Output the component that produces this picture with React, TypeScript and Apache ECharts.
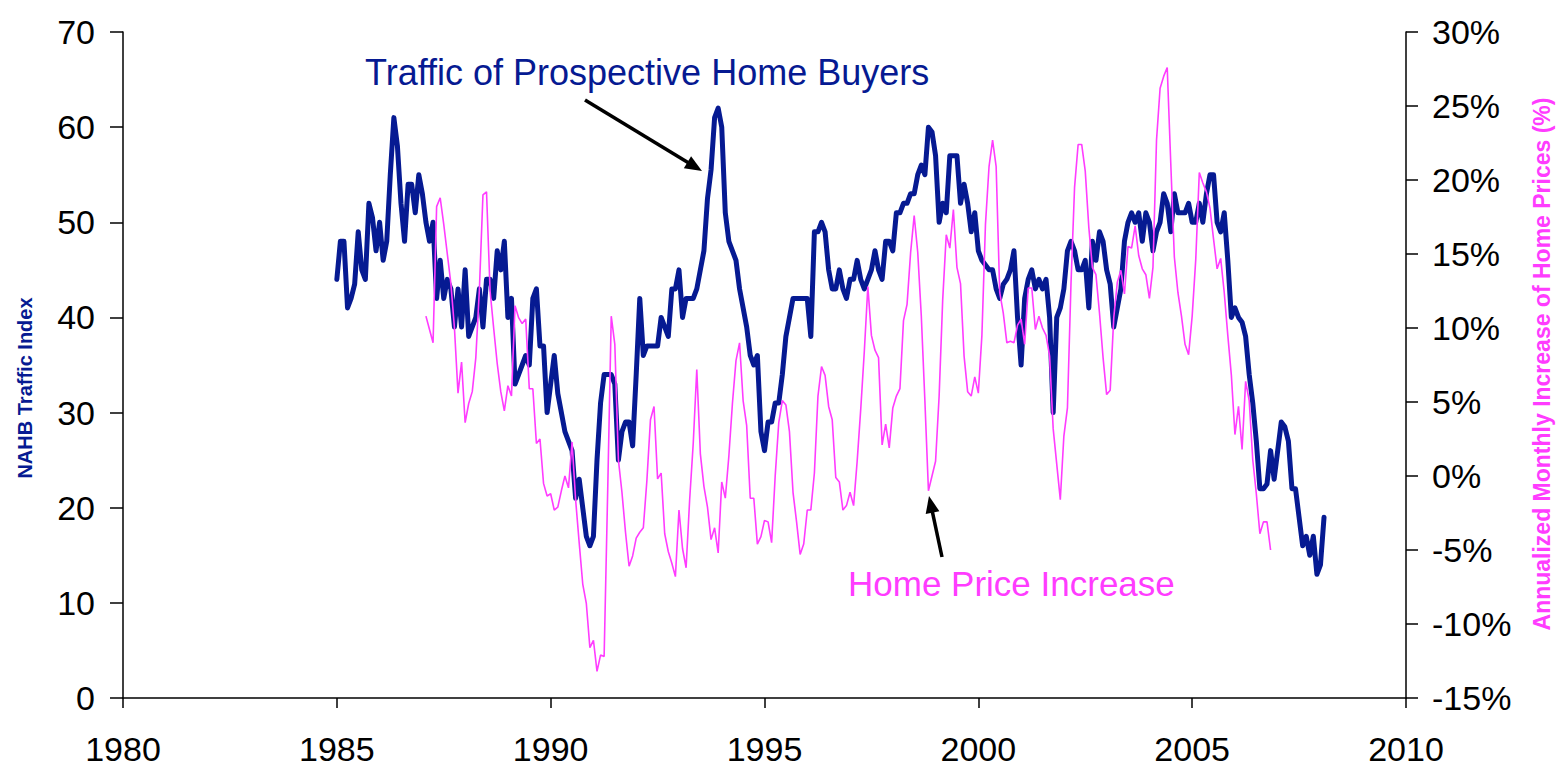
import React, { useEffect, useRef } from "react";
import * as echarts from "echarts";

// NAHB traffic index, monthly from Jan 1985
const trafficStartYear = 1985;
const trafficIndex = [
  44, 48, 48, 41, 42, 43.5, 49, 45, 44, 52,
  50.5, 47, 50, 46, 48, 55, 61, 58, 52, 48,
  54, 54, 51, 55, 53, 50, 48, 50, 42, 46,
  42, 44, 43, 39, 43, 39, 45, 38, 39, 40,
  43, 39, 44, 44, 42, 47, 45, 48, 40, 42,
  33, 34, 35, 36, 35, 42, 43, 37, 37, 30,
  33, 36, 32, 30, 28, 27, 26, 21, 23, 20,
  17, 16, 17, 25, 31, 34, 34, 34, 33, 25,
  28, 29, 29, 26.5, 34, 42, 36, 37, 37, 37,
  37, 40, 39, 38, 43, 43, 45, 40, 42, 42,
  42, 43, 45, 47, 52.5, 55.5, 61, 62, 60, 51,
  48, 47, 46, 43, 41, 39, 36, 35, 36, 28,
  26, 29, 29, 31, 31, 34, 38, 40, 42, 42,
  42, 42, 42, 38, 49, 49, 50, 49, 45, 43,
  43, 45, 43, 42, 44, 44, 46, 44, 43, 44,
  45, 47, 45, 44, 48, 48, 47, 51, 51, 52,
  52, 53, 53, 55, 56, 55, 60, 59.5, 57, 50,
  52, 51, 57, 57, 57, 52, 54, 52, 49, 51,
  47, 46, 45.5, 45, 45, 43, 42, 43.5, 44, 45,
  47, 40, 35, 42, 44, 45, 43, 44, 43, 44,
  40, 30, 40, 41, 43, 47, 48, 47, 45, 45,
  46, 41, 48, 46, 49, 48, 45, 43.5, 39, 41,
  43, 48, 50, 51, 50, 51, 48, 51, 50, 47,
  49, 50, 53, 52, 49, 53, 51, 51, 51, 52,
  50, 50, 52, 50, 53, 55, 55, 50, 49, 51,
  46, 40, 41, 40, 39.5, 38, 34, 31, 27, 22,
  22, 22.5, 26, 23, 26, 29, 28.5, 27, 22, 22,
  19, 16, 17, 15, 17, 13, 14, 19,
];

// Annualized monthly increase of home prices (%), monthly from Feb 1987
const priceStartYear = 1987 + 1 / 12;
const priceIncrease = [
  10.8, 9.9, 9.0, 18.2, 18.8, 17.0, 15.0, 13.0, 10.0, 5.6,
  7.7, 3.6, 4.9, 5.7, 8.0, 12.6, 19.0, 19.2, 12.5, 10.0,
  7.6, 5.7, 4.4, 6.1, 5.4, 11.5, 10.7, 10.3, 10.6, 5.9,
  5.9, 2.2, 2.5, -0.5, -1.35, -1.2, -2.3, -2.1, -1.0, 0.0,
  -0.8, 2.3, -1.6, -4.5, -7.3, -8.6, -11.6, -11.1, -13.2, -12.1,
  -12.2, -1.0, 10.8, 8.9, 1.1, -1.1, -3.8, -6.1, -5.4, -4.2,
  -3.8, -3.5, -0.3, 3.8, 4.7, -0.2, 0.2, -3.9, -5.1, -5.9,
  -6.8, -2.3, -4.9, -6.2, -1.6, 2.2, 7.2, 1.5, -0.7, -2.1,
  -4.3, -3.5, -5.2, -0.4, -1.5, 1.35, 4.9, 7.8, 9.0, 5.1,
  3.4, -1.5, -1.5, -4.6, -4.1, -3.0, -3.1, -4.5, 0.0, 3.6,
  5.1, 4.8, 3.0, -1.1, -3.1, -5.3, -4.6, -2.3, -2.3, 0.2,
  5.4, 7.4, 6.8, 4.7, 3.8, -0.1, -0.4, -2.3, -2.0, -1.1,
  -2.0, 1.0, 4.5, 8.4, 12.8, 9.5, 8.5, 8.0, 2.1, 3.5,
  1.9, 4.6, 5.4, 5.9, 10.5, 11.6, 15.1, 17.6, 15.1, 10.8,
  5.1, -1.0, 0.0, 1.0, 5.4, 11.9, 16.3, 15.4, 18.0, 14.1,
  13.0, 8.1, 5.7, 5.4, 6.7, 5.6, 9.5, 17.0, 20.9, 22.7,
  20.9, 12.4, 11.0, 9.0, 9.1, 9.0, 10.2, 10.6, 8.9, 12.7,
  12.7, 9.9, 10.8, 10.0, 9.5, 8.1, 3.2, 0.8, -1.6, 2.7,
  4.6, 13.0, 19.5, 22.4, 22.4, 20.6, 16.8, 14.1, 13.6, 11.0,
  8.0, 5.5, 5.8, 10.7, 13.1, 13.9, 12.3, 15.5, 15.4, 16.9,
  14.9, 14.0, 13.6, 12.0, 14.1, 22.7, 26.2, 27.0, 27.6, 21.1,
  14.8, 12.4, 10.8, 8.9, 8.2, 10.8, 14.6, 20.5, 19.8, 19.2,
  18.1, 16.0, 14.0, 14.7, 12.4, 9.5, 6.8, 2.8, 4.7, 1.8,
  6.4, 5.1, 1.1, -1.2, -3.9, -3.1, -3.1, -5.0,
];

const yearAxis = { min: 1980, max: 2010, interval: 5 };
const trafficAxis = { min: 0, max: 70, interval: 10 };
const priceAxis = { min: -15, max: 30, interval: 5 };

const trafficLabel = "Traffic of Prospective Home Buyers";
const priceLabel = "Home Price Increase";
const leftTitle = "NAHB Traffic Index";
const rightTitle = "Annualized Monthly Increase of Home Prices (%)";

const BLUE = "#061A92";
const PINK = "#FF3CFF";
const FONT = "'Liberation Sans', Arial, sans-serif";

function arrow(x1: number, y1: number, x2: number, y2: number) {
  const dx = x2 - x1;
  const dy = y2 - y1;
  const len = Math.sqrt(dx * dx + dy * dy);
  const ux = dx / len;
  const uy = dy / len;
  const head = 17;
  const half = 7;
  const bx = x2 - ux * head;
  const by = y2 - uy * head;
  return [
    {
      type: "line",
      shape: { x1, y1, x2: bx + ux * 2, y2: by + uy * 2 },
      style: { stroke: "#000", lineWidth: 3.5 },
      z: 10,
    },
    {
      type: "polygon",
      shape: {
        points: [
          [x2, y2],
          [bx - uy * half, by + ux * half],
          [bx + uy * half, by - ux * half],
        ],
      },
      style: { fill: "#000" },
      z: 10,
    },
  ];
}

export default function App() {
  const ref = useRef<HTMLDivElement>(null);

  useEffect(() => {
    if (!ref.current) return;
    const chart = echarts.init(ref.current, undefined, { renderer: "svg" });

    const trafficData = trafficIndex.map((v, i) => [trafficStartYear + i / 12, v]);
    const priceData = priceIncrease.map((v, i) => [priceStartYear + i / 12, v]);

    const axisLine = { show: true, lineStyle: { color: "#000", width: 1.5 } };
    const axisTick = { show: true, lineStyle: { color: "#000", width: 1.5 } };
    const labelStyle = { color: "#000", fontSize: 34, fontFamily: FONT };

    chart.setOption({
      animation: false,
      backgroundColor: "#fff",
      grid: { left: 123, right: 150, top: 32, bottom: 71, containLabel: false },
      xAxis: {
        type: "value",
        min: yearAxis.min,
        max: yearAxis.max,
        interval: yearAxis.interval,
        axisLine,
        axisTick: { ...axisTick, length: 10 },
        splitLine: { show: false },
        axisLabel: { ...labelStyle, margin: 34, formatter: (v: number) => String(v) },
      },
      yAxis: [
        {
          type: "value",
          position: "left",
          min: trafficAxis.min,
          max: trafficAxis.max,
          interval: trafficAxis.interval,
          axisLine,
          axisTick: { ...axisTick, length: 13 },
          splitLine: { show: false },
          axisLabel: { ...labelStyle, margin: 28 },
        },
        {
          type: "value",
          position: "right",
          min: priceAxis.min,
          max: priceAxis.max,
          interval: priceAxis.interval,
          axisLine,
          axisTick: { ...axisTick, length: 12 },
          splitLine: { show: false },
          axisLabel: { ...labelStyle, margin: 26, formatter: "{value}%" },
        },
      ],
      series: [
        {
          name: "Traffic",
          type: "line",
          yAxisIndex: 0,
          data: trafficData,
          showSymbol: false,
          lineStyle: { color: BLUE, width: 5, join: "round", cap: "round" },
          z: 2,
        },
        {
          name: "Home Price",
          type: "line",
          yAxisIndex: 1,
          data: priceData,
          showSymbol: false,
          lineStyle: { color: PINK, width: 1.6 },
          z: 3,
        },
      ],
      graphic: [
        {
          type: "text",
          x: 365,
          y: 72,
          style: {
            text: trafficLabel,
            fill: BLUE,
            fontSize: 36,
            fontFamily: FONT,
            verticalAlign: "middle",
            align: "left",
          },
        },
        {
          type: "text",
          x: 848,
          y: 583,
          style: {
            text: priceLabel,
            fill: PINK,
            fontSize: 35,
            fontFamily: FONT,
            verticalAlign: "middle",
            align: "left",
          },
        },
        {
          type: "text",
          x: 25,
          y: 388,
          rotation: Math.PI / 2,
          style: {
            text: leftTitle,
            fill: BLUE,
            font: "bold 20px 'Liberation Sans', Arial, sans-serif",
            fontSize: 20,
            fontWeight: "bold",
            fontFamily: FONT,
            verticalAlign: "middle",
            align: "center",
          },
        },
        {
          type: "text",
          x: 1542,
          y: 364,
          rotation: Math.PI / 2,
          style: {
            text: rightTitle,
            fill: PINK,
            font: "bold 23px 'Liberation Sans', Arial, sans-serif",
            fontSize: 23,
            fontWeight: "bold",
            fontFamily: FONT,
            verticalAlign: "middle",
            align: "center",
          },
        },
        ...arrow(585, 100, 702, 171),
        ...arrow(942, 557, 929, 496),
      ],
    });

    return () => chart.dispose();
  }, []);

  return (
    <div
      ref={ref}
      style={{ position: "fixed", left: 0, top: 0, width: 1556, height: 769, background: "#fff" }}
    />
  );
}
